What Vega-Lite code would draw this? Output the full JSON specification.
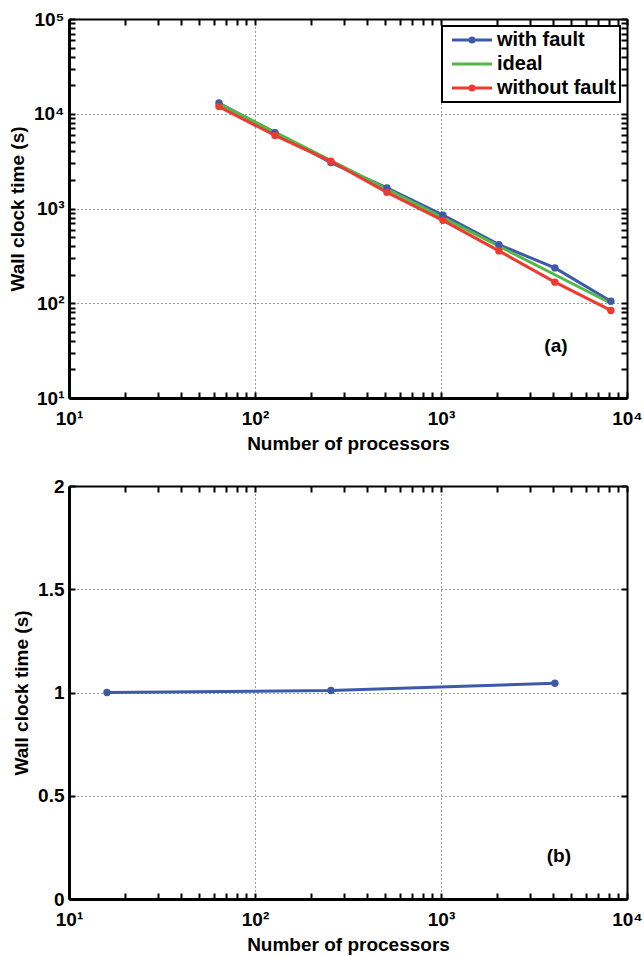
{
  "$schema": "https://vega.github.io/schema/vega-lite/v6.json",
  "padding": {"left": 8, "top": 10, "right": 10, "bottom": 5},
  "spacing": 24,
  "config": {
    "font": "Liberation Sans",
    "view": {"stroke": null},
    "axis": {
      "labelFont": "Liberation Sans", "labelFontSize": 19, "labelFontWeight": "bold", "labelColor": "black",
      "titleFont": "Liberation Sans", "titleFontSize": 19, "titleFontWeight": "bold", "titleColor": "black",
      "domainColor": "black", "tickColor": "black", "tickSize": -6, "tickWidth": 2, "labelPadding": 11,
      "gridColor": "#333333", "gridDash": [1, 3], "gridWidth": 1, "labelOverlap": false, "labelFlush": false, "labelBound": false
    }
  },
  "vconcat": [
    {
      "width": 558, "height": 379,
      "data": {"values": [
        {"series": "with fault", "procs": 64, "time": 13000},
        {"series": "with fault", "procs": 128, "time": 6300},
        {"series": "with fault", "procs": 256, "time": 3050},
        {"series": "with fault", "procs": 512, "time": 1650},
        {"series": "with fault", "procs": 1024, "time": 850},
        {"series": "with fault", "procs": 2048, "time": 415},
        {"series": "with fault", "procs": 4096, "time": 236},
        {"series": "with fault", "procs": 8192, "time": 105},
        {"series": "ideal", "procs": 64, "time": 12800},
        {"series": "ideal", "procs": 128, "time": 6400},
        {"series": "ideal", "procs": 256, "time": 3200},
        {"series": "ideal", "procs": 512, "time": 1600},
        {"series": "ideal", "procs": 1024, "time": 800},
        {"series": "ideal", "procs": 2048, "time": 400},
        {"series": "ideal", "procs": 4096, "time": 200},
        {"series": "ideal", "procs": 8192, "time": 100},
        {"series": "without fault", "procs": 64, "time": 11900},
        {"series": "without fault", "procs": 128, "time": 5900},
        {"series": "without fault", "procs": 256, "time": 3150},
        {"series": "without fault", "procs": 512, "time": 1480},
        {"series": "without fault", "procs": 1024, "time": 750},
        {"series": "without fault", "procs": 2048, "time": 357},
        {"series": "without fault", "procs": 4096, "time": 167},
        {"series": "without fault", "procs": 8192, "time": 84}
      ]},
      "layer": [
        {
          "mark": {"type": "line", "strokeWidth": 3},
          "encoding": {
            "x": {"field": "procs", "type": "quantitative", "scale": {"type": "log", "domain": [10, 10000]},
              "axis": {"values": [10,20,30,40,50,60,70,80,90,100,200,300,400,500,600,700,800,900,1000,2000,3000,4000,5000,6000,7000,8000,9000,10000],
                "labelExpr": "datum.value==10?'10¹':datum.value==100?'10²':datum.value==1000?'10³':datum.value==10000?'10⁴':''",
                "labelPadding": 17,
                "title": "Number of processors", "titlePadding": 6, "domainWidth": 3,
                "grid": true, "gridOpacity": {"condition": {"test": "indexof([10,100,1000,10000], datum.value) >= 0", "value": 1}, "value": 0}}},
            "y": {"field": "time", "type": "quantitative", "scale": {"type": "log", "domain": [10, 100000]},
              "axis": {"values": [10,20,30,40,50,60,70,80,90,100,200,300,400,500,600,700,800,900,1000,2000,3000,4000,5000,6000,7000,8000,9000,10000,20000,30000,40000,50000,60000,70000,80000,90000,100000],
                "labelExpr": "datum.value==10?'10¹':datum.value==100?'10²':datum.value==1000?'10³':datum.value==10000?'10⁴':datum.value==100000?'10⁵':''",
                "title": "Wall clock time (s)", "titlePadding": 6, "domainWidth": 3,
                "grid": true, "gridOpacity": {"condition": {"test": "indexof([10,100,1000,10000,100000], datum.value) >= 0", "value": 1}, "value": 0}}},
            "color": {"field": "series", "type": "nominal",
              "scale": {"domain": ["with fault", "ideal", "without fault"], "range": ["#3d5aa8", "#52b848", "#ee3a31"]},
              "legend": {"title": null, "orient": "none", "legendX": 373, "legendY": 7, "padding": 4, "rowPadding": 4,
                "strokeColor": "black", "fillColor": "white",
                "labelFont": "Liberation Sans", "labelFontSize": 20, "labelFontWeight": "bold", "labelColor": "black",
                "labelOffset": 27, "symbolOffset": 4, "symbolSize": 256, "symbolStrokeWidth": 3,
                "encode": {
                  "legend": {"update": {"strokeWidth": {"value": 2}}},
                  "symbols": {"update": {
                  "shape": {"signal": "datum.value === 'ideal' ? 'M-1,0L4,0' : 'M-1,0L4,0M1.25,0A0.25,0.25,0,1,0,1.75,0A0.25,0.25,0,1,0,1.25,0Z'"},
                  "fill": {"signal": "datum.value === 'with fault' ? '#3d5aa8' : datum.value === 'ideal' ? 'transparent' : '#ee3a31'"},
                  "stroke": {"signal": "datum.value === 'with fault' ? '#3d5aa8' : datum.value === 'ideal' ? '#52b848' : '#ee3a31'"},
                  "strokeWidth": {"value": 3},
                  "opacity": {"value": 1}
                }}}}}
          }
        },
        {
          "transform": [{"filter": "datum.series !== 'ideal'"}],
          "mark": {"type": "point", "filled": true, "size": 55, "opacity": 1},
          "encoding": {
            "x": {"field": "procs", "type": "quantitative", "axis": null},
            "y": {"field": "time", "type": "quantitative", "axis": null},
            "color": {"field": "series", "type": "nominal"}
          }
        },
        {
          "data": {"values": [{"procs": 4150, "time": 35, "label": "(a)"}]},
          "mark": {"type": "text", "font": "Liberation Sans", "fontSize": 19, "fontWeight": "bold", "color": "black"},
          "encoding": {
            "x": {"field": "procs", "type": "quantitative",
              "axis": {"orient": "top", "values": [10,20,30,40,50,60,70,80,90,100,200,300,400,500,600,700,800,900,1000,2000,3000,4000,5000,6000,7000,8000,9000,10000],
                "labels": false, "grid": false, "title": null, "domainWidth": 2}},
            "y": {"field": "time", "type": "quantitative",
              "axis": {"orient": "right", "values": [10,20,30,40,50,60,70,80,90,100,200,300,400,500,600,700,800,900,1000,2000,3000,4000,5000,6000,7000,8000,9000,10000,20000,30000,40000,50000,60000,70000,80000,90000,100000],
                "labels": false, "grid": false, "title": null, "domainWidth": 2}},
            "text": {"field": "label"}
          }
        }
      ],
      "resolve": {"axis": {"x": "independent", "y": "independent"}}
    },
    {
      "width": 558, "height": 413,
      "data": {"values": [
        {"procs": 16, "time": 1.0},
        {"procs": 256, "time": 1.01},
        {"procs": 4096, "time": 1.045}
      ]},
      "layer": [
        {
          "mark": {"type": "line", "strokeWidth": 3, "color": "#3d5aa8", "point": {"filled": true, "size": 55, "color": "#3d5aa8"}},
          "encoding": {
            "x": {"field": "procs", "type": "quantitative", "scale": {"type": "log", "domain": [10, 10000]},
              "axis": {"values": [10,20,30,40,50,60,70,80,90,100,200,300,400,500,600,700,800,900,1000,2000,3000,4000,5000,6000,7000,8000,9000,10000],
                "labelExpr": "datum.value==10?'10¹':datum.value==100?'10²':datum.value==1000?'10³':datum.value==10000?'10⁴':''",
                "labelPadding": 17,
                "title": "Number of processors", "titlePadding": 6, "domainWidth": 3,
                "grid": true, "gridOpacity": {"condition": {"test": "indexof([10,100,1000,10000], datum.value) >= 0", "value": 1}, "value": 0}}},
            "y": {"field": "time", "type": "quantitative", "scale": {"domain": [0, 2]},
              "axis": {"values": [0, 0.5, 1, 1.5, 2], "format": "~g",
                "title": "Wall clock time (s)", "titlePadding": 6, "domainWidth": 3, "grid": true}}
          }
        },
        {
          "data": {"values": [{"procs": 4300, "time": 0.21, "label": "(b)"}]},
          "mark": {"type": "text", "font": "Liberation Sans", "fontSize": 19, "fontWeight": "bold", "color": "black"},
          "encoding": {
            "x": {"field": "procs", "type": "quantitative",
              "axis": {"orient": "top", "values": [10,20,30,40,50,60,70,80,90,100,200,300,400,500,600,700,800,900,1000,2000,3000,4000,5000,6000,7000,8000,9000,10000],
                "labels": false, "grid": false, "title": null, "domainWidth": 2}},
            "y": {"field": "time", "type": "quantitative",
              "axis": {"orient": "right", "values": [0, 0.5, 1, 1.5, 2], "labels": false, "grid": false, "title": null, "domainWidth": 2}},
            "text": {"field": "label"}
          }
        }
      ],
      "resolve": {"axis": {"x": "independent", "y": "independent"}}
    }
  ]
}
